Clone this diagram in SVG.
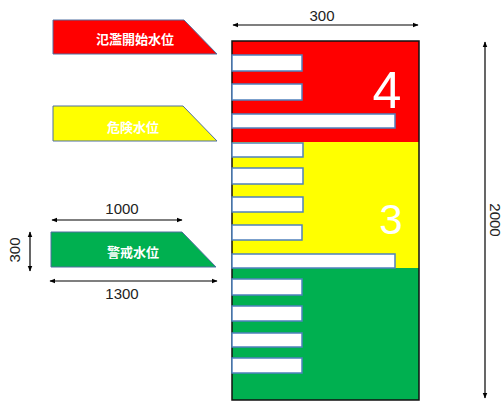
<svg xmlns="http://www.w3.org/2000/svg" width="502" height="403" viewBox="0 0 502 403">
<defs>
<marker id="ah" viewBox="0 0 10 10" refX="9" refY="5" markerWidth="6" markerHeight="6" orient="auto-start-reverse" markerUnits="userSpaceOnUse"><path d="M0,1 L10,5 L0,9 z" fill="#000"/></marker>
<style>
.bar{fill:#fff;stroke:#4f81bd;stroke-width:1.5}
.lbl{stroke:#4f6fa0;stroke-width:1}
.lt{font-family:"Noto Sans CJK JP","Liberation Sans",sans-serif;font-weight:bold;font-size:13px;fill:#fff;text-anchor:middle;dominant-baseline:central}
.dim{stroke:#000;stroke-width:1.2;fill:none;marker-start:url(#ah);marker-end:url(#ah)}
.dt{font-family:"Liberation Sans",Arial,sans-serif;font-size:15px;fill:#222;text-anchor:middle}
.big{font-family:"Liberation Sans",Arial,sans-serif;fill:#fff;text-anchor:middle}
</style>
</defs>
<rect width="502" height="403" fill="#fff"/>
<g id="gauge">
<rect x="232" y="41" width="187" height="101" fill="#ff0000"/>
<rect x="232" y="142" width="187" height="126" fill="#ffff00"/>
<rect x="232" y="268" width="187" height="132" fill="#00b050"/>
<rect x="232" y="41" width="187" height="359" fill="none" stroke="#111" stroke-width="1.5"/>
<rect class="bar" x="232" y="55" width="70" height="16"/>
<rect class="bar" x="232" y="84" width="70" height="16"/>
<rect class="bar" x="232" y="114" width="163" height="14"/>
<rect class="bar" x="232" y="143" width="71" height="14"/>
<rect class="bar" x="232" y="168" width="71" height="16"/>
<rect class="bar" x="232" y="197" width="71" height="15"/>
<rect class="bar" x="232" y="225" width="70" height="15"/>
<rect class="bar" x="232" y="254" width="163" height="14"/>
<rect class="bar" x="232" y="279" width="70" height="16"/>
<rect class="bar" x="232" y="306" width="70" height="15"/>
<rect class="bar" x="232" y="333" width="70" height="14"/>
<rect class="bar" x="232" y="358" width="70" height="15"/>
<text class="big" x="387" y="108" font-size="52">4</text>
<text class="big" x="391" y="234" font-size="42">3</text>
</g>
<g id="label-flood">
<polygon class="lbl" points="53,20 184,20 217,54 53,54" fill="#ff0000"/>
<text class="lt" x="135" y="38">氾濫開始水位</text>
</g>
<g id="label-danger">
<polygon class="lbl" points="53,106 183,106 217,141 53,141" fill="#ffff00"/>
<text class="lt" x="133" y="126">危険水位</text>
</g>
<g id="label-warning">
<polygon class="lbl" points="51,232 182,232 216,267 51,267" fill="#00b050"/>
<text class="lt" x="133" y="251">警戒水位</text>
</g>
<g id="connectors">
<line class="dim" x1="233" y1="25" x2="418" y2="25"/>
<line class="dim" x1="485" y1="42" x2="485" y2="398"/>
<line class="dim" x1="52" y1="220" x2="182" y2="220"/>
<line class="dim" x1="50" y1="281" x2="217" y2="281"/>
<line class="dim" x1="30" y1="232" x2="30" y2="271"/>
</g>
<g id="dim-labels">
<text class="dt" x="322" y="21">300</text>
<text class="dt" x="122" y="214">1000</text>
<text class="dt" x="122" y="299">1300</text>
<text class="dt" transform="translate(495,220) rotate(90)" y="0" dominant-baseline="central">2000</text>
<text class="dt" transform="translate(14,250) rotate(-90)" y="0" dominant-baseline="central">300</text>
</g>
</svg>
